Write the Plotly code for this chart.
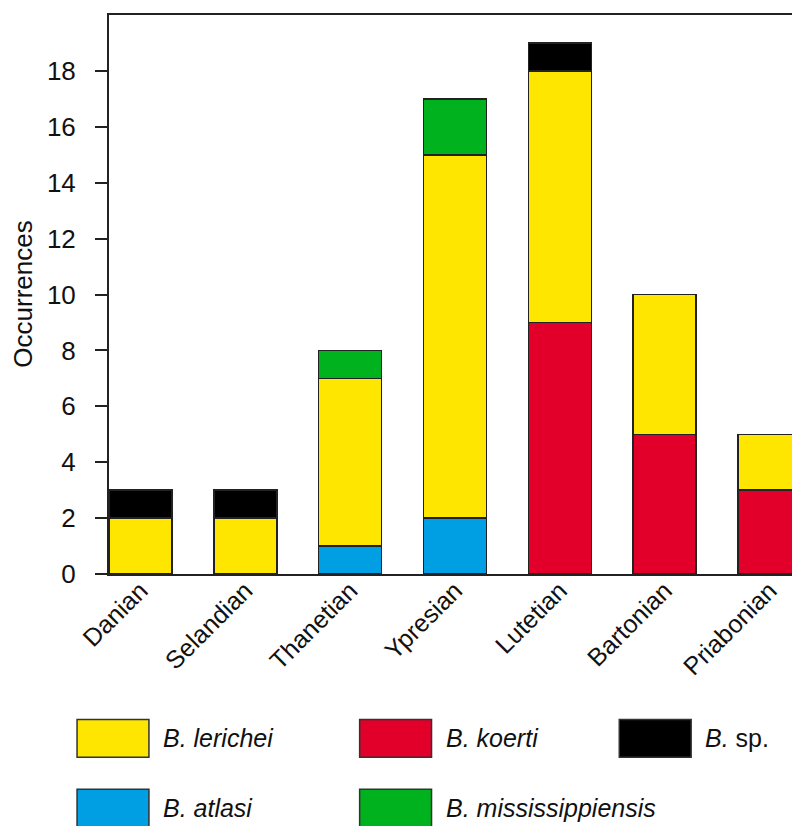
import plotly.graph_objects as go

stages = ["Danian", "Selandian", "Thanetian", "Ypresian", "Lutetian", "Bartonian", "Priabonian"]
atlasi = [0, 0, 1, 2, 0, 0, 0]
koerti = [0, 0, 0, 0, 9, 5, 3]
lerichei = [2, 2, 6, 13, 9, 5, 2]
mississippiensis = [0, 0, 1, 2, 0, 0, 0]
sp = [1, 1, 0, 0, 1, 0, 0]
y_ticks = [0, 2, 4, 6, 8, 10, 12, 14, 16, 18]

series = [
    ("B. atlasi", atlasi, "#009FE3"),
    ("B. koerti", koerti, "#E2002B"),
    ("B. lerichei", lerichei, "#FFE600"),
    ("B. mississippiensis", mississippiensis, "#00B31E"),
    ("B. sp.", sp, "#000000"),
]

FONT = "Liberation Sans, Arial, Helvetica, sans-serif"

fig = go.Figure()
for name, vals, col in series:
    fig.add_trace(go.Bar(
        x=stages, y=vals, name=name, width=0.6,
        marker=dict(color=col, line=dict(color="#222222", width=1.5)),
        showlegend=False,
    ))

# plot area geometry in pixels
L, R, T, B = 101, 6, 5, 260
W, H = 800, 826
pw = W - L - R
ph = H - T - B

def px(x):
    return (x - L) / pw

def py(y):
    return (H - B - y) / ph

legend_items = [
    ("<i>B. lerichei</i>", "#FFE600", 69, 712),
    ("<i>B. koerti</i>", "#E2002B", 352, 712),
    ("<i>B.</i> sp.", "#000000", 612, 712),
    ("<i>B. atlasi</i>", "#009FE3", 69, 782),
    ("<i>B. mississippiensis</i>", "#00B31E", 352, 782),
]
shapes = []
annotations = []
for label, col, bx, by in legend_items:
    shapes.append(dict(type="rect", xref="paper", yref="paper",
                       x0=px(bx), x1=px(bx + 72), y0=py(by), y1=py(by + 38),
                       fillcolor=col, line=dict(color="#333333", width=1.5)))
    annotations.append(dict(xref="paper", yref="paper", x=px(bx + 84), y=py(by + 19),
                            text=label, showarrow=False, xanchor="left", yanchor="middle",
                            font=dict(family=FONT, size=25, color="#111111")))

# y-axis title
annotations.append(dict(xref="paper", yref="paper", x=px(14), y=0.5,
                        text="Occurrences", textangle=-90, showarrow=False,
                        xanchor="center", yanchor="middle",
                        font=dict(family=FONT, size=26, color="#111111")))

fig.update_layout(
    barmode="stack",
    width=W, height=H,
    margin=dict(l=L, r=R, t=T, b=B, pad=0),
    paper_bgcolor="white", plot_bgcolor="white",
    font=dict(family=FONT, size=25, color="#111111"),
    shapes=shapes,
    annotations=annotations,
    showlegend=False,
)
fig.update_xaxes(
    range=[-0.5 + 0.2, len(stages) - 0.5 - 0.2],
    tickangle=-45, tickfont=dict(size=25),
    ticklabelstandoff=-10,
    showline=True, linecolor="#222222", linewidth=2, mirror=True,
    ticks="", showgrid=False,
)
fig.update_yaxes(
    range=[0, 20], tickvals=y_ticks, tickfont=dict(size=26),
    showline=True, linecolor="#222222", linewidth=2, mirror=True,
    ticks="outside", ticklen=12, tickwidth=2, tickcolor="#222222",
    ticklabelstandoff=14,
    showgrid=False, zeroline=False,
)

fig.write_html("out.html")
